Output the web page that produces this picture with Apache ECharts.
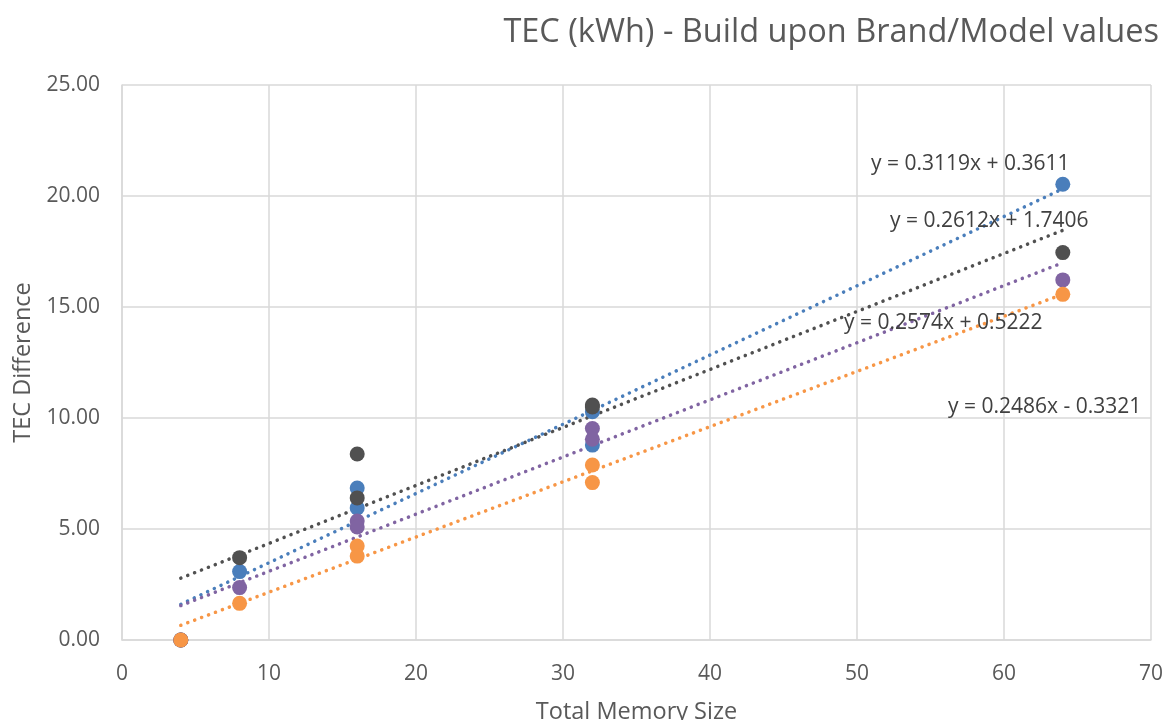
<!DOCTYPE html>
<html>
<head>
<meta charset="utf-8">
<script src="https://cdn.jsdelivr.net/npm/echarts@6/dist/echarts.min.js"></script>
<style>
html,body{margin:0;padding:0;background:#fff;}
#c{width:1168px;height:720px;}
</style>
</head>
<body>
<div id="c"></div>
<script>
// ---- data ----
const memorySizes = [4, 8, 16, 16, 32, 32, 64];
const seriesNames = ['Series A', 'Series B', 'Series C', 'Series D'];
const blueValues   = [0, 3.08, 6.85, 5.95, 10.28, 8.78, 20.53];
const grayValues   = [0, 3.71, 8.38, 6.40, 10.58, 10.50, 17.45];
const purpleValues = [0, 2.36, 5.36, 5.09, 9.53, 9.04, 16.22];
const orangeValues = [0, 1.65, 4.23, 3.78, 7.88, 7.09, 15.57];
const trendSlopes     = [0.3119, 0.2612, 0.2574, 0.2486];
const trendIntercepts = [0.3611, 1.7406, 0.5222, -0.3321];
const trendLabels = ['y = 0.3119x + 0.3611', 'y = 0.2612x + 1.7406', 'y = 0.2574x + 0.5222', 'y = 0.2486x - 0.3321'];
const xTicks = [0, 10, 20, 30, 40, 50, 60, 70];
const yTicks = [0, 5, 10, 15, 20, 25];

// ---- styles ----
const colors = ['#4a7ebb', '#505050', '#8064a2', '#f79646'];
const FONT = '"Open Sans", "Noto Sans", sans-serif';
const valueSets = [blueValues, grayValues, purpleValues, orangeValues];

const chart = echarts.init(document.getElementById('c'), null, {renderer: 'canvas'});

const xMin = Math.min(...memorySizes), xMax = Math.max(...memorySizes);
const series = [];
// trendlines first (under points)
valueSets.forEach((vals, i) => {
  series.push({
    type: 'line',
    name: seriesNames[i] + ' trend',
    data: [[xMin, trendSlopes[i] * xMin + trendIntercepts[i]], [xMax, trendSlopes[i] * xMax + trendIntercepts[i]]],
    showSymbol: false,
    silent: true,
    z: 2,
    lineStyle: {color: colors[i], width: 3.5, type: [0.1, 7.3], cap: 'round'}
  });
});
valueSets.forEach((vals, i) => {
  series.push({
    type: 'scatter',
    name: seriesNames[i],
    data: memorySizes.map((x, k) => [x, vals[k]]),
    symbolSize: 15,
    z: 3 + i,
    itemStyle: {color: colors[i], opacity: 1}
  });
});

const labelPos = [[871, 167], [890, 224], [844, 326], [948, 410]];

chart.setOption({
  animation: false,
  title: {
    text: 'TEC (kWh) - Build upon Brand/Model values',
    right: 4, top: 11,
    textStyle: {fontFamily: FONT, fontSize: 32.5, fontWeight: 'normal', color: '#595959'}
  },
  grid: {left: 122, right: 17, top: 85, bottom: 80, containLabel: false, outerBoundsMode: 'none'},
  xAxis: {
    type: 'value', min: xTicks[0], max: xTicks[xTicks.length - 1], interval: 10,
    name: 'Total Memory Size', nameLocation: 'middle', nameGap: 60,
    nameTextStyle: {fontFamily: FONT, fontSize: 23.5, color: '#595959'},
    axisLine: {show: true, lineStyle: {color: '#d9d9d9', width: 1.5}},
    axisTick: {show: false},
    axisLabel: {fontFamily: FONT, fontSize: 21, color: '#595959', margin: 24},
    splitLine: {show: true, lineStyle: {color: '#d9d9d9', width: 1.5}}
  },
  yAxis: {
    type: 'value', min: yTicks[0], max: yTicks[yTicks.length - 1], interval: 5,
    name: 'TEC Difference', nameLocation: 'middle', nameGap: 87, nameRotate: 90,
    nameTextStyle: {fontFamily: FONT, fontSize: 23.5, color: '#595959'},
    axisLine: {show: true, lineStyle: {color: '#d9d9d9', width: 1.5}},
    axisTick: {show: false},
    axisLabel: {fontFamily: FONT, fontSize: 21, color: '#595959', margin: 22, formatter: v => v.toFixed(2)},
    splitLine: {show: true, lineStyle: {color: '#d9d9d9', width: 1.5}}
  },
  graphic: trendLabels.map((t, i) => ({
    type: 'text', left: labelPos[i][0], top: labelPos[i][1] - 13, z: 100,
    style: {text: t, fontFamily: FONT, fontSize: 21, fill: '#404040'}
  })),
  series: series
});
</script>
</body>
</html>
